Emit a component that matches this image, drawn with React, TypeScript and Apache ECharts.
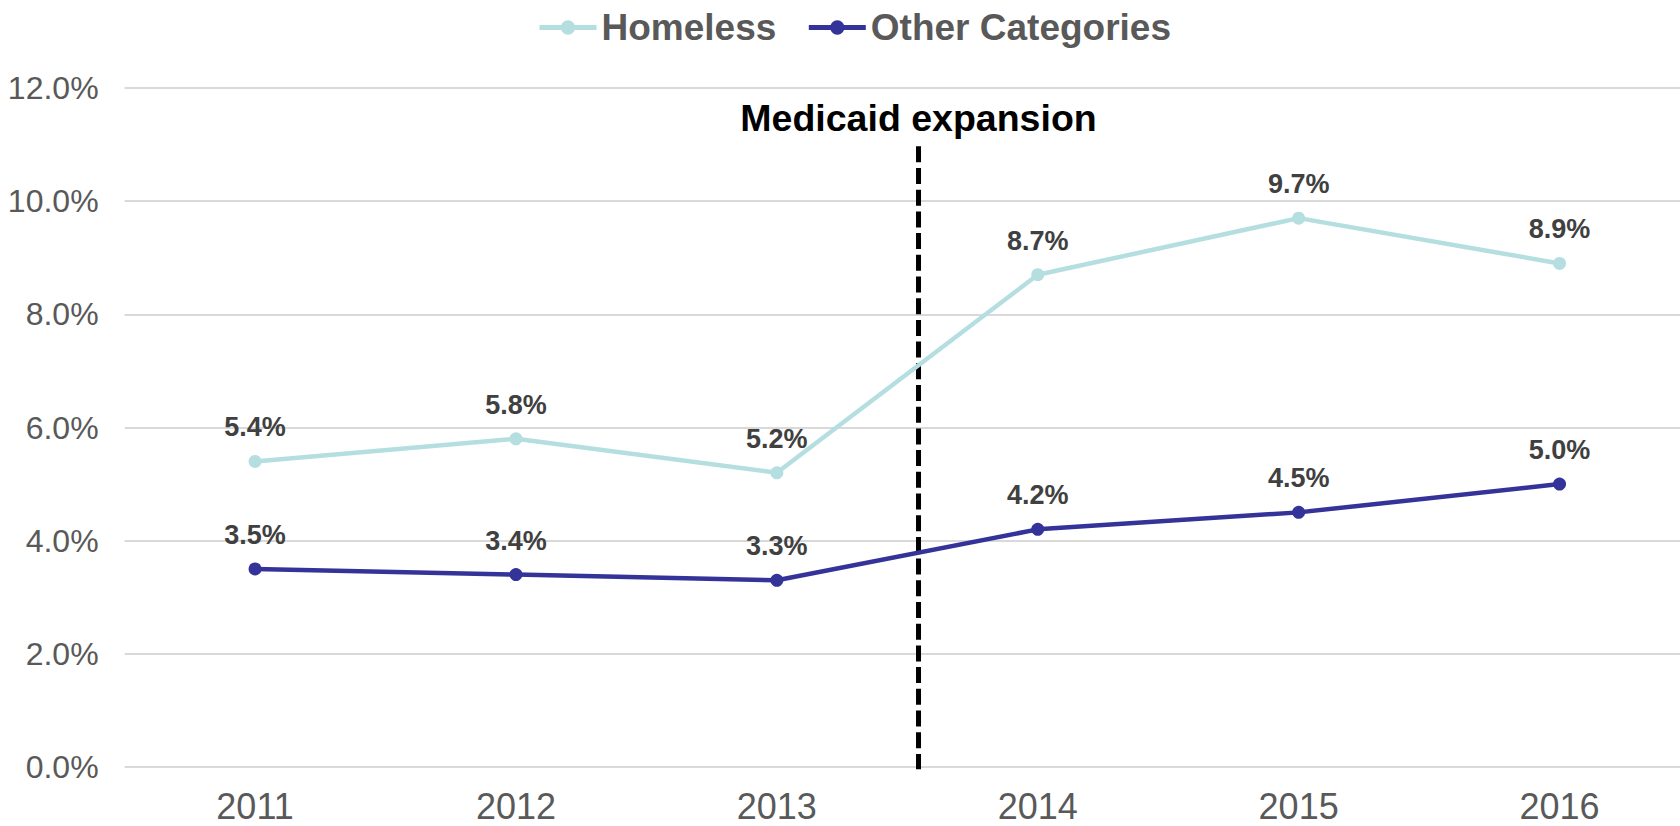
import React, { useEffect, useRef } from "react";
import * as echarts from "echarts";

const years = ["2011", "2012", "2013", "2014", "2015", "2016"];
const homeless = [5.4, 5.8, 5.2, 8.7, 9.7, 8.9];
const otherCategories = [3.5, 3.4, 3.3, 4.2, 4.5, 5.0];
const expansionX = 2.543; // position between 2013 and 2014 (category index)
const expansionRange = [-0.04, 10.97];
const expansionLabel = "Medicaid expansion";

const FONT = "'Liberation Sans', Arial, sans-serif";

export default function App() {
  const ref = useRef<HTMLDivElement>(null);
  useEffect(() => {
    document.body.style.margin = "0";
    document.body.style.overflow = "hidden";
    const chart = echarts.init(ref.current!, null, { renderer: "svg" });
    const pct = (v: number) => v.toFixed(1) + "%";
    const lineSeries = (name: string, data: number[], color: string) => ({
      name,
      type: "line",
      data,
      symbol: "circle",
      symbolSize: 13,
      itemStyle: { color },
      lineStyle: { color, width: 4.5 },
      label: {
        show: true,
        position: "top",
        distance: 14,
        formatter: (p: any) => pct(p.value),
        fontFamily: FONT,
        fontWeight: "bold",
        fontSize: 27,
        color: "#404040",
      },
      z: 5,
    });
    chart.setOption({
      animation: false,
      textStyle: { fontFamily: FONT },
      legend: {
        data: ["Homeless", "Other Categories"],
        left: 532,
        top: 4,
        itemWidth: 57,
        itemHeight: 18,
        itemGap: 30,
        lineStyle: { width: 5 },
        textStyle: {
          fontFamily: FONT,
          fontSize: 37,
          fontWeight: "bold",
          color: "#595959",
        },
      },
      grid: { left: 124.6, right: 0, top: 88, bottom: 59, containLabel: false },
      xAxis: [
        {
          type: "category",
          data: years,
          boundaryGap: true,
          axisLine: { show: false },
          axisTick: { show: false },
          axisLabel: {
            fontFamily: FONT,
            fontSize: 36,
            color: "#595959",
            margin: 21,
          },
        },
        {
          type: "value",
          min: -0.5,
          max: 5.5,
          show: false,
        },
      ],
      yAxis: {
        type: "value",
        min: 0,
        max: 12,
        interval: 2,
        axisLine: { show: false },
        axisTick: { show: false },
        axisLabel: {
          fontFamily: FONT,
          fontSize: 32,
          color: "#595959",
          margin: 26,
          formatter: (v: number) => pct(v),
        },
        splitLine: { lineStyle: { color: "#D9D9D9", width: 2 } },
      },
      series: [
        lineSeries("Homeless", homeless, "#B5DEE1"),
        lineSeries("Other Categories", otherCategories, "#33339A"),
        {
          name: expansionLabel,
          type: "line",
          xAxisIndex: 1,
          clip: false,
          symbol: "circle",
          symbolSize: 0.1,
          showSymbol: true,
          silent: true,
          itemStyle: { color: "rgba(0,0,0,0)" },
          lineStyle: { color: "#000000", width: 5, type: [16, 5.7] },
          data: [
            {
              value: [expansionX, expansionRange[1]],
              label: {
                show: true,
                position: "top",
                distance: 9,
                formatter: expansionLabel,
                fontFamily: FONT,
                fontWeight: "bold",
                fontSize: 37.5,
                color: "#000000",
              },
            },
            [expansionX, expansionRange[0]],
          ],
          z: 3,
        },
      ],
    });
    return () => chart.dispose();
  }, []);
  return (
    <div
      ref={ref}
      style={{ position: "absolute", left: 0, top: 0, width: 1690, height: 826, background: "#fff" }}
    />
  );
}
